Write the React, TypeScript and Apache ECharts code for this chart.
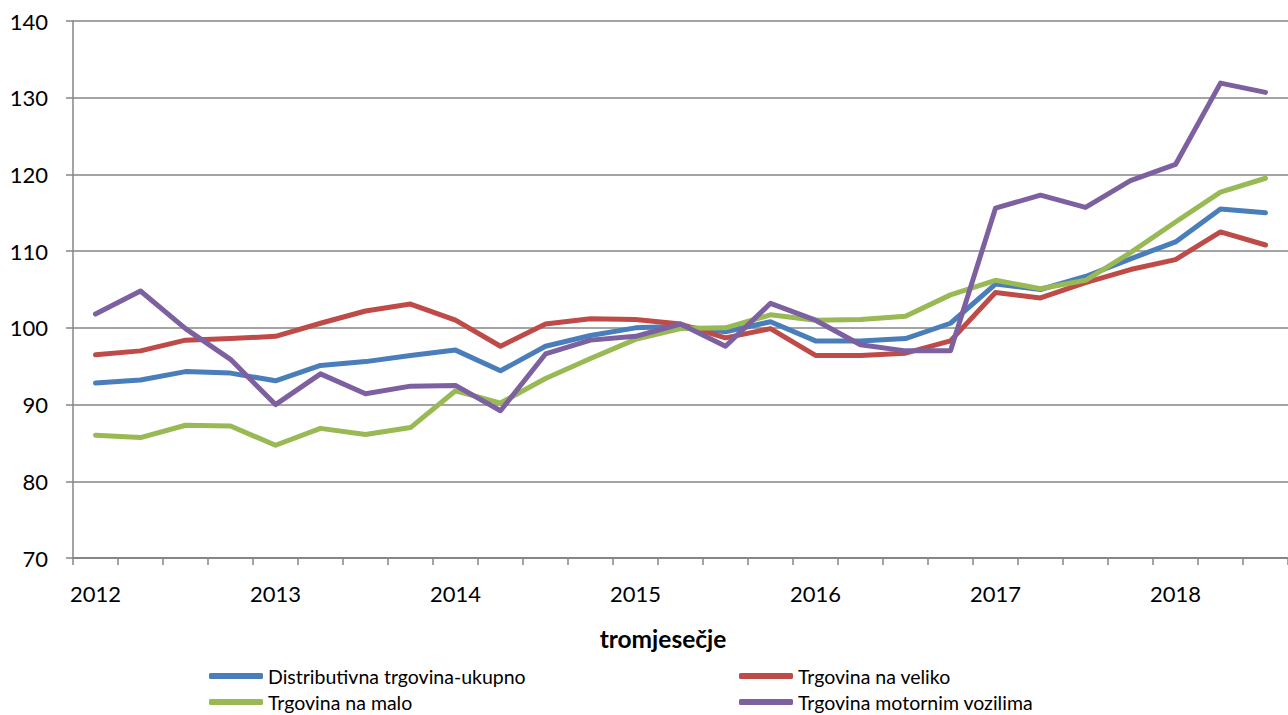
import React, { useEffect, useRef } from "react";
import * as echarts from "echarts";

const years = ["2012", "2013", "2014", "2015", "2016", "2017", "2018"];
const quarters = ["I", "II", "III", "IV"];
const categories: string[] = [];
years.forEach((y) => quarters.forEach((q) => categories.push(y + " " + q)));
categories.length = 27; // 2012 I – 2018 III

const seriesNames = [
  "Distributivna trgovina-ukupno",
  "Trgovina na veliko",
  "Trgovina na malo",
  "Trgovina motornim vozilima",
];

const ukupno = [92.8, 93.2, 94.3, 94.1, 93.1, 95.1, 95.6, 96.4, 97.1, 94.4, 97.6, 99.0, 100.0, 100.2, 99.5, 100.8, 98.3, 98.3, 98.6, 100.6, 105.7, 105.0, 106.7, 109.0, 111.2, 115.5, 115.0];
const veliko = [96.5, 97.0, 98.4, 98.6, 98.9, 100.6, 102.2, 103.1, 101.0, 97.6, 100.5, 101.2, 101.1, 100.5, 98.7, 99.9, 96.4, 96.4, 96.7, 98.3, 104.6, 103.9, 105.9, 107.6, 108.9, 112.5, 110.8];
const malo = [86.0, 85.7, 87.3, 87.2, 84.7, 86.9, 86.1, 87.0, 91.8, 90.2, 93.4, 96.0, 98.5, 99.9, 100.0, 101.7, 101.0, 101.1, 101.5, 104.3, 106.2, 105.1, 106.2, 109.8, 113.8, 117.7, 119.5];
const motorna = [101.8, 104.8, 99.9, 95.9, 90.0, 94.0, 91.4, 92.4, 92.5, 89.2, 96.6, 98.4, 98.9, 100.5, 97.6, 103.2, 101.0, 97.8, 97.0, 97.0, 115.6, 117.3, 115.7, 119.2, 121.3, 131.9, 130.7];

const colors = ["#4A7EBB", "#BE4B48", "#98B954", "#7D60A0"];
const dataSets = [ukupno, veliko, malo, motorna];

const FONT = "Lato, 'Noto Sans', sans-serif";

export default function App() {
  const ref = useRef<HTMLDivElement>(null);
  useEffect(() => {
    if (!ref.current) return;
    const chart = echarts.init(ref.current, null, { renderer: "svg" });
    const legendPos = [
      { left: 209, top: 666 },
      { left: 739, top: 666 },
      { left: 209, top: 692 },
      { left: 739, top: 692 },
    ];
    chart.setOption({
      animation: false,
      backgroundColor: "#ffffff",
      textStyle: { fontFamily: FONT },
      grid: { left: 73, right: 0, top: 21, bottom: 157, containLabel: false },
      legend: seriesNames.map((n, i) => ({
        data: [n],
        left: legendPos[i].left,
        top: legendPos[i].top,
        icon: "roundRect",
        itemWidth: 54,
        itemHeight: 6,
        padding: 0,
        textStyle: { fontSize: 19.5, color: "#000", fontFamily: FONT },
        selectedMode: false,
      })),
      xAxis: {
        type: "category",
        data: categories,
        boundaryGap: true,
        axisLine: { lineStyle: { color: "#868686", width: 2 } },
        axisTick: { show: true, interval: 0, length: 7, lineStyle: { color: "#868686", width: 1.5 } },
        axisLabel: {
          interval: 3,
          margin: 24,
          fontSize: 22,
          color: "#000",
          fontFamily: FONT,
          formatter: (v: string) => v.split(" ")[0],
        },
        splitLine: { show: false },
      },
      yAxis: {
        type: "value",
        min: 70,
        max: 140,
        interval: 10,
        axisLine: { show: true, lineStyle: { color: "#868686", width: 1.5 } },
        axisTick: { show: true, length: 7, lineStyle: { color: "#868686", width: 1.5 } },
        axisLabel: { fontSize: 22, color: "#000", margin: 25, fontFamily: FONT },
        splitLine: { show: true, lineStyle: { color: "#868686", width: 1.5 } },
      },
      graphic: [
        {
          type: "text",
          x: 663,
          y: 638,
          style: {
            text: "tromjesečje",
            fontSize: 24.5,
            fontWeight: "bold",
            fill: "#000",
            fontFamily: FONT,
            align: "center",
            verticalAlign: "middle",
          },
        },
      ],
      series: seriesNames.map((n, i) => ({
        name: n,
        type: "line",
        data: dataSets[i],
        symbol: "none",
        smooth: false,
        itemStyle: { color: colors[i] },
        lineStyle: { color: colors[i], width: 5, cap: "round", join: "round" },
      })),
    });
    return () => chart.dispose();
  }, []);
  return (
    <div
      ref={ref}
      style={{ position: "fixed", left: 0, top: 0, width: 1288, height: 715 }}
    />
  );
}
